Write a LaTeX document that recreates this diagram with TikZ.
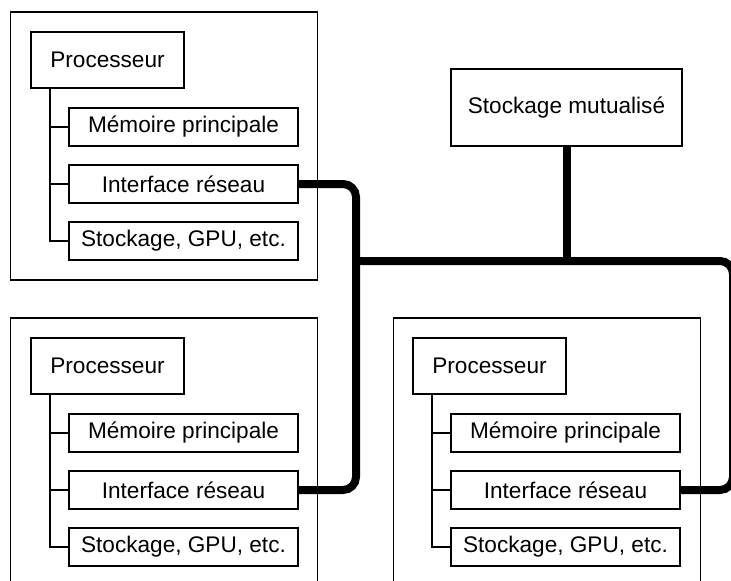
\documentclass[tikz,border=0pt]{standalone}
\usepackage{fontspec}
\setmainfont{Liberation Sans}
\begin{document}
\begin{tikzpicture}[x=1pt,y=-1pt,
  thin box/.style={draw, line width=1.5pt, inner sep=0pt, rectangle, font=\fontsize{22.6}{27}\selectfont},
  proc/.style={thin box, minimum width=153pt, minimum height=56pt},
  part/.style={thin box, minimum width=229pt, minimum height=38pt},
  machine/.style={draw, line width=1.5pt, inner sep=0pt, rectangle, minimum width=307pt},
  tree/.style={line width=1.5pt},
  bus/.style={line width=8pt, rounded corners=13pt}]
\useasboundingbox (0,0) rectangle (731,581);
\clip (0,0) rectangle (731,581);
% machines
\node[machine, minimum height=268pt] (m1) at (164,146) {};
\node[machine, minimum height=300pt] (m2) at (164,468) {};
\node[machine, minimum height=300pt] (m3) at (547,468) {};
% machine 1
\node[proc] (p1) at (107.5,60) {Processeur};
\node[part] (mem1) at (183.5,127) {Mémoire principale};
\node[part] (if1) at (183.5,184) {Interface réseau};
\node[part] (st1) at (183.5,241) {Stockage, GPU, etc.};
% machine 2
\node[proc] (p2) at (107.5,366) {Processeur};
\node[part] (mem2) at (183.5,433) {Mémoire principale};
\node[part] (if2) at (183.5,490) {Interface réseau};
\node[part] (st2) at (183.5,547) {Stockage, GPU, etc.};
% machine 3
\node[proc] (p3) at (489.5,366) {Processeur};
\node[part] (mem3) at (565.5,433) {Mémoire principale};
\node[part] (if3) at (565.5,490) {Interface réseau};
\node[part] (st3) at (565.5,547) {Stockage, GPU, etc.};
% shared storage
\node[thin box, minimum width=231pt, minimum height=77pt] (sm) at (566.5,107.5) {Stockage mutualisé};
% trees
\foreach \i/\tx in {1/50,2/50,3/432}{
  \draw[tree] (p\i.south -| \tx,0) |- (st\i.west);
  \draw[tree] (\tx,0 |- mem\i.west) -- (mem\i.west);
  \draw[tree] (\tx,0 |- if\i.west) -- (if\i.west);
}
% network
\coordinate (ja) at (356,261);
\coordinate (jb) at (566.5,261);
\draw[bus] (if1.east) -- (356,0 |- if1.east) -- (356,0 |- if2.east) -- (if2.east);
\draw[bus] (352,261) -- (733,261) -- (733,0 |- if3.east) -- (if3.east);
\draw[line width=8pt] (sm.south) -- (jb);
\end{tikzpicture}
\end{document}
